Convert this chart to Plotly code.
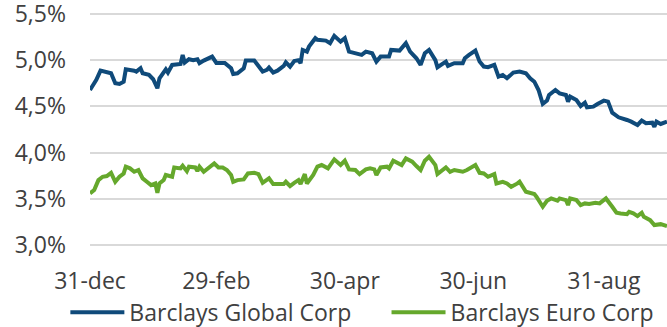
import plotly.graph_objects as go

# ---- data (yields in %) ----
global_dates = [
    "2023-12-31", "2024-01-02", "2024-01-03", "2024-01-05", "2024-01-08", "2024-01-10", "2024-01-12",
    "2024-01-14", "2024-01-16", "2024-01-17", "2024-01-21", "2024-01-22", "2024-01-24", "2024-01-25",
    "2024-01-28", "2024-01-30", "2024-02-01", "2024-02-02", "2024-02-05", "2024-02-06", "2024-02-08",
    "2024-02-10", "2024-02-12", "2024-02-13", "2024-02-14", "2024-02-16", "2024-02-18", "2024-02-20",
    "2024-02-21", "2024-02-23", "2024-02-25", "2024-02-27", "2024-02-29", "2024-03-02", "2024-03-04",
    "2024-03-07", "2024-03-08", "2024-03-10", "2024-03-11", "2024-03-13", "2024-03-14", "2024-03-18",
    "2024-03-19", "2024-03-22", "2024-03-24", "2024-03-25", "2024-03-27", "2024-03-29", "2024-04-01",
    "2024-04-02", "2024-04-04", "2024-04-06", "2024-04-08", "2024-04-09", "2024-04-10", "2024-04-12",
    "2024-04-13", "2024-04-16", "2024-04-17", "2024-04-21", "2024-04-23", "2024-04-25", "2024-04-28",
    "2024-04-30", "2024-05-02", "2024-05-06", "2024-05-08", "2024-05-10", "2024-05-13", "2024-05-15",
    "2024-05-17", "2024-05-21", "2024-05-22", "2024-05-26", "2024-05-29", "2024-05-31", "2024-06-03",
    "2024-06-05", "2024-06-07", "2024-06-09", "2024-06-12", "2024-06-13", "2024-06-17", "2024-06-18",
    "2024-06-21", "2024-06-25", "2024-06-26", "2024-06-28", "2024-07-01", "2024-07-03", "2024-07-05",
    "2024-07-07", "2024-07-10", "2024-07-12", "2024-07-14", "2024-07-16", "2024-07-19", "2024-07-22",
    "2024-07-25", "2024-07-27", "2024-07-29", "2024-07-31", "2024-08-02", "2024-08-04", "2024-08-05",
    "2024-08-08", "2024-08-10", "2024-08-13", "2024-08-14", "2024-08-15", "2024-08-18", "2024-08-20",
    "2024-08-22", "2024-08-23", "2024-08-26", "2024-08-28", "2024-08-31", "2024-09-02", "2024-09-04",
    "2024-09-07", "2024-09-09", "2024-09-11", "2024-09-13", "2024-09-16", "2024-09-18", "2024-09-20",
    "2024-09-23", "2024-09-24", "2024-09-25", "2024-09-27", "2024-09-30",
]
global_corp = [
    4.677, 4.75, 4.786, 4.886, 4.865, 4.858, 4.75,
    4.742, 4.767, 4.90, 4.886, 4.876, 4.912, 4.858,
    4.84, 4.793, 4.696, 4.804, 4.90, 4.865, 4.948,
    4.959, 4.959, 5.056, 4.973, 5.01, 5.0, 5.01,
    4.966, 4.995, 5.02, 5.038, 4.97, 4.966, 4.97,
    4.912, 4.85, 4.858, 4.876, 4.912, 4.995, 4.995,
    4.966, 4.876, 4.894, 4.919, 4.865, 4.886, 4.937,
    4.977, 4.93, 4.991, 5.0, 4.966, 5.11, 5.092,
    5.146, 5.237, 5.219, 5.211, 5.183, 5.262, 5.20,
    5.237, 5.092, 5.067, 5.056, 5.092, 5.074, 4.984,
    5.038, 5.038, 5.11, 5.103, 5.183, 5.092, 5.02,
    4.948, 5.074, 5.11, 5.0, 4.923, 4.984, 4.937,
    4.966, 4.966, 5.02, 5.056, 5.103, 4.984, 4.93,
    4.923, 4.948, 4.822, 4.84, 4.804, 4.865, 4.876,
    4.858, 4.804, 4.767, 4.677, 4.526, 4.562, 4.623,
    4.677, 4.641, 4.623, 4.551, 4.605, 4.569, 4.504,
    4.54, 4.49, 4.497, 4.526, 4.562, 4.551, 4.432,
    4.382, 4.371, 4.353, 4.335, 4.299, 4.346, 4.317,
    4.324, 4.28, 4.335, 4.31, 4.335,
]

euro_dates = [
    "2023-12-31", "2024-01-02", "2024-01-04", "2024-01-06", "2024-01-08", "2024-01-10", "2024-01-12",
    "2024-01-14", "2024-01-16", "2024-01-17", "2024-01-19", "2024-01-21", "2024-01-23", "2024-01-25",
    "2024-01-27", "2024-01-29", "2024-01-31", "2024-02-01", "2024-02-02", "2024-02-04", "2024-02-05",
    "2024-02-08", "2024-02-09", "2024-02-12", "2024-02-13", "2024-02-15", "2024-02-16", "2024-02-19",
    "2024-02-20", "2024-02-21", "2024-02-23", "2024-02-25", "2024-02-28", "2024-03-01", "2024-03-03",
    "2024-03-05", "2024-03-07", "2024-03-08", "2024-03-10", "2024-03-13", "2024-03-15", "2024-03-18",
    "2024-03-20", "2024-03-22", "2024-03-25", "2024-03-27", "2024-03-29", "2024-04-01", "2024-04-02",
    "2024-04-04", "2024-04-06", "2024-04-08", "2024-04-09", "2024-04-11", "2024-04-12", "2024-04-13",
    "2024-04-15", "2024-04-17", "2024-04-19", "2024-04-22", "2024-04-25", "2024-04-28", "2024-04-30",
    "2024-05-02", "2024-05-05", "2024-05-07", "2024-05-10", "2024-05-12", "2024-05-14", "2024-05-15",
    "2024-05-17", "2024-05-20", "2024-05-21", "2024-05-23", "2024-05-25", "2024-05-27", "2024-05-29",
    "2024-06-01", "2024-06-03", "2024-06-05", "2024-06-07", "2024-06-09", "2024-06-12", "2024-06-13",
    "2024-06-17", "2024-06-19", "2024-06-21", "2024-06-25", "2024-06-27", "2024-06-29", "2024-07-01",
    "2024-07-03", "2024-07-05", "2024-07-07", "2024-07-10", "2024-07-11", "2024-07-14", "2024-07-16",
    "2024-07-18", "2024-07-21", "2024-07-22", "2024-07-25", "2024-07-29", "2024-07-30", "2024-08-02",
    "2024-08-04", "2024-08-06", "2024-08-09", "2024-08-10", "2024-08-13", "2024-08-14", "2024-08-15",
    "2024-08-18", "2024-08-20", "2024-08-22", "2024-08-24", "2024-08-27", "2024-08-29", "2024-09-01",
    "2024-09-04", "2024-09-06", "2024-09-08", "2024-09-11", "2024-09-12", "2024-09-14", "2024-09-16",
    "2024-09-18", "2024-09-19", "2024-09-22", "2024-09-24", "2024-09-27", "2024-09-30",
]
euro_corp = [
    3.56, 3.595, 3.703, 3.739, 3.747, 3.782, 3.685,
    3.739, 3.775, 3.848, 3.83, 3.793, 3.812, 3.722,
    3.685, 3.649, 3.667, 3.566, 3.667, 3.703, 3.758,
    3.739, 3.84, 3.83, 3.858, 3.80, 3.848, 3.84,
    3.80, 3.848, 3.793, 3.83, 3.884, 3.84, 3.84,
    3.812, 3.758, 3.685, 3.703, 3.71, 3.775, 3.782,
    3.768, 3.674, 3.722, 3.66, 3.66, 3.66, 3.685,
    3.639, 3.674, 3.703, 3.66, 3.768, 3.667, 3.696,
    3.758, 3.848, 3.866, 3.83, 3.927, 3.866, 3.912,
    3.819, 3.812, 3.768, 3.819, 3.83, 3.819, 3.758,
    3.84, 3.848, 3.83, 3.912, 3.884, 3.866, 3.938,
    3.902, 3.855, 3.812, 3.912, 3.956, 3.866, 3.768,
    3.84, 3.793, 3.812, 3.793, 3.812, 3.84, 3.866,
    3.782, 3.775, 3.739, 3.768, 3.667, 3.685, 3.667,
    3.631, 3.667, 3.685, 3.577, 3.552, 3.523, 3.415,
    3.48, 3.505, 3.48, 3.505, 3.487, 3.433, 3.505,
    3.487, 3.433, 3.451, 3.444, 3.458, 3.451, 3.505,
    3.415, 3.35, 3.343, 3.335, 3.36, 3.343, 3.314,
    3.35, 3.306, 3.27, 3.217, 3.227, 3.206,
]

series_names = ["Barclays Global Corp", "Barclays Euro Corp"]
tick_dates = ["2023-12-31", "2024-02-29", "2024-04-30", "2024-06-30", "2024-08-31"]
tick_labels = ["31-dec", "29-feb", "30-apr", "30-jun", "31-aug"]
y_ticks = [3.0, 3.5, 4.0, 4.5, 5.0, 5.5]
y_labels = ["3,0%", "3,5%", "4,0%", "4,5%", "5,0%", "5,5%"]

FONT = "Open Sans"
TXT = "#404040"
FS = 23

fig = go.Figure()
fig.add_trace(go.Scatter(
    x=global_dates, y=global_corp, name=series_names[0], mode="lines",
    line=dict(color="#0f4a7a", width=4), legend="legend",
))
fig.add_trace(go.Scatter(
    x=euro_dates, y=euro_corp, name=series_names[1], mode="lines",
    line=dict(color="#65a82c", width=4), legend="legend2",
))

legend_common = dict(
    orientation="h", xref="container", yref="container",
    xanchor="left", y=0.045, yanchor="middle",
    font=dict(family=FONT, size=FS, color=TXT),
    itemwidth=54, bgcolor="rgba(0,0,0,0)",
)

fig.update_layout(
    width=667, height=327,
    margin=dict(l=90, r=0, t=12, b=80, pad=0, autoexpand=False),
    paper_bgcolor="white", plot_bgcolor="white",
    font=dict(family=FONT, size=FS, color=TXT),
    showlegend=True,
    legend=dict(x=0.098, **legend_common),
    legend2=dict(x=0.5795, **legend_common),
)
fig.update_xaxes(
    type="date", range=["2023-12-31", "2024-09-30"],
    tickmode="array", tickvals=tick_dates, ticktext=tick_labels,
    showgrid=False, zeroline=False, showline=False, ticks="",
    ticklabelstandoff=18, ticklabeloverflow="allow", automargin=False,
    tickfont=dict(family=FONT, size=FS, color=TXT),
)
fig.update_yaxes(
    range=[2.98, 5.52], tickmode="array", tickvals=y_ticks, ticktext=y_labels,
    showgrid=True, gridcolor="#d9d9d9", gridwidth=2,
    zeroline=False, showline=False, ticks="",
    ticklabelstandoff=23, ticklabeloverflow="allow", automargin=False,
    tickfont=dict(family=FONT, size=FS, color=TXT),
)

fig.write_html("out.html")
